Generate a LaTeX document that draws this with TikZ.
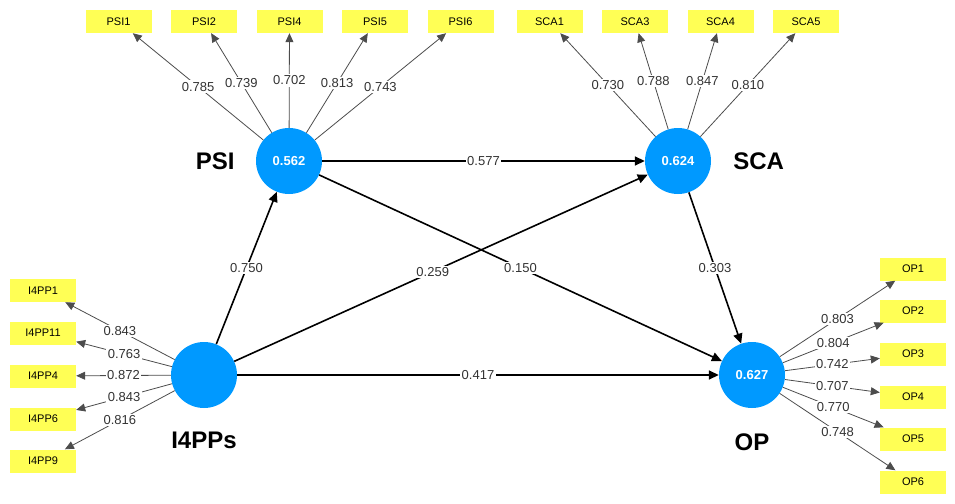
\documentclass[tikz,border=0pt]{standalone}
\usepackage{fontspec}
\setmainfont{Liberation Sans}
\usetikzlibrary{arrows.meta, positioning}
\definecolor{lvblue}{RGB}{0,153,255}
\definecolor{itemyellow}{RGB}{255,255,85}

\begin{document}
\begin{tikzpicture}[x=1pt, y=-1pt,
    latent/.style={circle, fill=lvblue, minimum size=66pt, inner sep=0pt, text=white, font=\fontsize{13}{15}\selectfont\bfseries},
    item/.style={rectangle, fill=itemyellow, minimum width=66pt, minimum height=23pt, inner sep=0pt, font=\fontsize{11}{13}\selectfont},
    title/.style={inner sep=0pt, font=\fontsize{24}{28}\selectfont\bfseries},
    effect/.style={-{Triangle[length=10pt,width=9pt]}, line width=1.6pt},
    load/.style={-{Triangle[length=9pt,width=8pt]}, line width=0.8pt, draw=black!70},
    coef/.style={fill=white, inner sep=1.5pt, text=black!80, font=\fontsize{13}{15}\selectfont}
]
\useasboundingbox (0,0) rectangle (955,503);

% Latent variables
\node[latent] (psi) at (289,161) {0.562};
\node[latent] (sca) at (678,161) {0.624};
\node[latent] (i4pps) at (204,375) {};
\node[latent] (op) at (752,375) {0.627};

\node[title, left=21pt of psi] (psilab) {PSI};
\node[title, right=22pt of sca] (scalab) {SCA};
\node[title, below=24pt of i4pps] (i4ppslab) {I4PPs};
\node[title, below=25pt of op] (oplab) {OP};

% Indicators
\node[item] (psi1) at (118.5,21.5) {PSI1};
\node[item] (psi2) at (204,21.5) {PSI2};
\node[item] (psi4) at (289.5,21.5) {PSI4};
\node[item] (psi5) at (375,21.5) {PSI5};
\node[item] (psi6) at (460.5,21.5) {PSI6};

\node[item] (sca1) at (549.5,21.5) {SCA1};
\node[item] (sca3) at (635,21.5) {SCA3};
\node[item] (sca4) at (720.5,21.5) {SCA4};
\node[item] (sca5) at (806,21.5) {SCA5};

\node[item] (i4pp1) at (43,290.5) {I4PP1};
\node[item] (i4pp11) at (43,333) {I4PP11};
\node[item] (i4pp4) at (43,376) {I4PP4};
\node[item] (i4pp6) at (43,419) {I4PP6};
\node[item] (i4pp9) at (43,461) {I4PP9};

\node[item] (op1) at (913,269) {OP1};
\node[item] (op2) at (913,311) {OP2};
\node[item] (op3) at (913,354) {OP3};
\node[item] (op4) at (913,397) {OP4};
\node[item] (op5) at (913,439) {OP5};
\node[item] (op6) at (913,482) {OP6};

% Outer loadings
\draw[load] (psi) -- node[coef] {0.785} (psi1);
\draw[load] (psi) -- node[coef] {0.739} (psi2);
\draw[load] (psi) -- node[coef] {0.702} (psi4);
\draw[load] (psi) -- node[coef] {0.813} (psi5);
\draw[load] (psi) -- node[coef] {0.743} (psi6);

\draw[load] (sca) -- node[coef] {0.730} (sca1);
\draw[load] (sca) -- node[coef] {0.788} (sca3);
\draw[load] (sca) -- node[coef] {0.847} (sca4);
\draw[load] (sca) -- node[coef] {0.810} (sca5);

\draw[load] (i4pps) -- node[coef] {0.843} (i4pp1);
\draw[load] (i4pps) -- node[coef] {0.763} (i4pp11);
\draw[load] (i4pps) -- node[coef] {0.872} (i4pp4);
\draw[load] (i4pps) -- node[coef] {0.843} (i4pp6);
\draw[load] (i4pps) -- node[coef] {0.816} (i4pp9);

\draw[load] (op) -- node[coef] {0.803} (op1);
\draw[load] (op) -- node[coef] {0.804} (op2);
\draw[load] (op) -- node[coef] {0.742} (op3);
\draw[load] (op) -- node[coef] {0.707} (op4);
\draw[load] (op) -- node[coef] {0.770} (op5);
\draw[load] (op) -- node[coef] {0.748} (op6);

% Path coefficients
\draw[effect] (i4pps) -- node[coef] {0.750} (psi);
\draw[effect] (i4pps) -- node[coef, pos=0.48] {0.259} (sca);
\draw[effect] (i4pps) -- node[coef] {0.417} (op);
\draw[effect] (psi) -- node[coef] {0.577} (sca);
\draw[effect] (psi) -- node[coef] {0.150} (op);
\draw[effect] (sca) -- node[coef] {0.303} (op);

\end{tikzpicture}
\end{document}
